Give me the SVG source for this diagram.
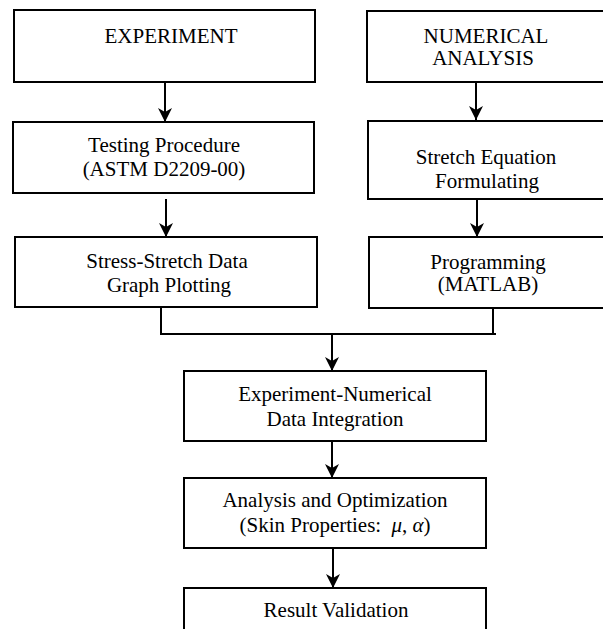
<svg xmlns="http://www.w3.org/2000/svg" width="603" height="629" viewBox="0 0 603 629">
<style>
.box{fill:#fff;stroke:#000;stroke-width:2}
.t{font-family:"Liberation Serif","Times New Roman",serif;font-size:21px;fill:#000;text-anchor:middle}
.c{fill:none;stroke:#000;stroke-width:2}
</style>
<defs>
<marker id="ah" markerUnits="userSpaceOnUse" viewBox="0 0 14 14" markerWidth="14" markerHeight="14" refX="14" refY="7" orient="auto">
<path d="M0,0 L14,7 L0,14 L4,7 Z" fill="#000"/>
</marker>
</defs>
<rect width="603" height="629" fill="#fff"/>
<g id="n-experiment"><rect class="box" x="14" y="10" width="301" height="72"/><text class="t" x="171" y="43">EXPERIMENT</text></g>
<g id="n-numerical"><rect class="box" x="367" y="11" width="250" height="71"/><text class="t" x="486" y="43">NUMERICAL</text><text class="t" x="483" y="65">ANALYSIS</text></g>
<g id="n-testing"><rect class="box" x="13" y="122" width="301" height="71"/><text class="t" x="164" y="152">Testing Procedure</text><text class="t" x="164" y="176">(ASTM D2209-00)</text></g>
<g id="n-stretcheq"><rect class="box" x="368" y="121" width="250" height="78"/><text class="t" x="486" y="164">Stretch Equation</text><text class="t" x="487" y="188">Formulating</text></g>
<g id="n-stress"><rect class="box" x="15" y="237" width="302" height="70"/><text class="t" x="167" y="268">Stress-Stretch Data</text><text class="t" x="169" y="292">Graph Plotting</text></g>
<g id="n-programming"><rect class="box" x="369" y="237" width="250" height="71"/><text class="t" x="488" y="269">Programming</text><text class="t" x="488" y="291">(MATLAB)</text></g>
<g id="n-integration"><rect class="box" x="184" y="371" width="302" height="70"/><text class="t" x="335" y="401">Experiment-Numerical</text><text class="t" x="335" y="426">Data Integration</text></g>
<g id="n-analysis"><rect class="box" x="184" y="478" width="302" height="70"/><text class="t" x="335" y="507">Analysis and Optimization</text><text class="t" x="335" y="532">(Skin Properties: <tspan dx="5" font-style="italic">μ</tspan>, <tspan font-style="italic">α</tspan>)</text></g>
<g id="n-result"><rect class="box" x="184" y="588" width="302" height="60"/><text class="t" x="336" y="617">Result Validation</text></g>
<g id="connectors">
<line class="c" x1="165" y1="82" x2="165" y2="122" marker-end="url(#ah)"/>
<line class="c" x1="166" y1="199" x2="166" y2="237" marker-end="url(#ah)"/>
<line class="c" x1="476" y1="82" x2="476" y2="120" marker-end="url(#ah)"/>
<line class="c" x1="477" y1="199" x2="477" y2="237" marker-end="url(#ah)"/>
<polyline class="c" points="161,307 161,334 496,334"/>
<line class="c" x1="493" y1="308" x2="493" y2="334"/>
<line class="c" x1="332" y1="334" x2="332" y2="371" marker-end="url(#ah)"/>
<line class="c" x1="332" y1="441" x2="332" y2="478" marker-end="url(#ah)"/>
<line class="c" x1="333" y1="548" x2="333" y2="588" marker-end="url(#ah)"/>
</g>
</svg>
